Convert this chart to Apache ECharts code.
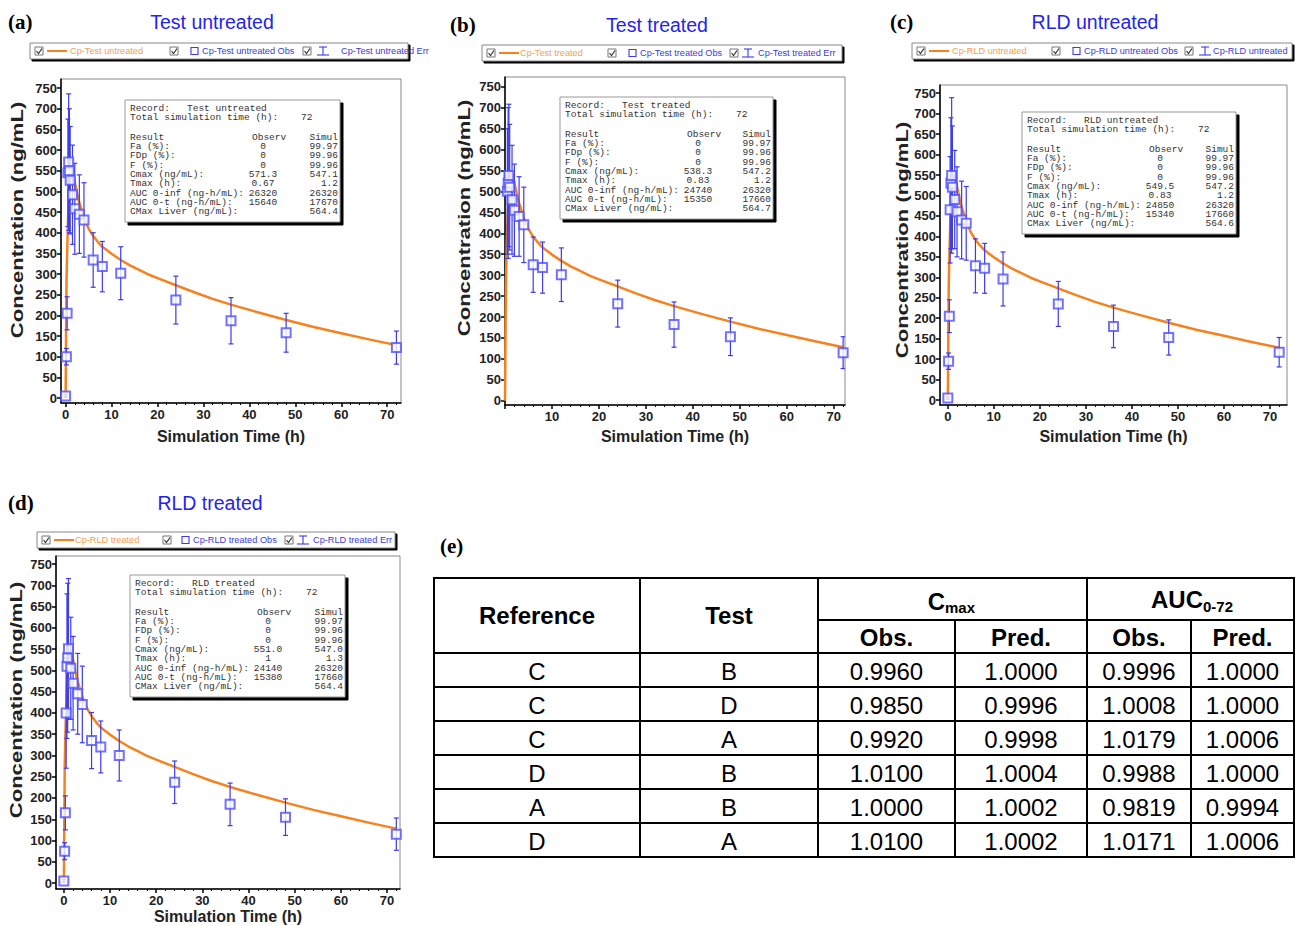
<!DOCTYPE html>
<html><head><meta charset="utf-8">
<script src="https://cdn.jsdelivr.net/npm/echarts@6/dist/echarts.min.js"></script>
<style>html,body{margin:0;padding:0;background:#fff}#c{width:1296px;height:926px}</style>
</head><body><div id="c"></div><script>
// ---------- DATA ----------
const obsTimes = [0, 0.17, 0.33, 0.5, 0.67, 0.83, 1, 1.5, 2, 3, 4, 6, 8, 12, 24, 36, 48, 72];
const obsA = [5, 100, 205, 545, 571, 550, 527, 492, 458, 445, 431, 334, 318, 302, 237, 187, 158, 122];
const errA = [3, 20, 40, 130, 165, 150, 130, 120, 110, 95, 90, 66, 61, 64, 58, 56, 47, 40];
const obsB = [null, null, null, 500, 520, 538, 510, 480, 455, 440, 420, 325, 318, 301, 232, 182, 153, 115];
const errB = [null, null, null, 150, 180, 170, 150, 130, 110, 95, 90, 66, 61, 64, 56, 54, 45, 38];
const obsC = [5, 95, 205, 465, 530, 549, 520, 490, 460, 440, 432, 328, 322, 296, 235, 180, 153, 117];
const errC = [3, 20, 40, 130, 160, 190, 150, 120, 110, 95, 90, 66, 61, 66, 55, 52, 43, 36];
const obsD = [5, 75, 165, 400, 510, 530, 551, 505, 470, 445, 420, 335, 320, 300, 237, 185, 155, 115];
const errD = [3, 20, 40, 130, 170, 175, 165, 120, 110, 95, 90, 66, 61, 60, 50, 50, 43, 38];

const simTimes = [0, 0.05, 0.1, 0.2, 0.3, 0.5, 0.75, 1, 1.2, 1.5, 2, 2.5, 3, 4, 5, 6, 7, 8, 10, 12, 14, 16, 18, 20, 24, 28, 32, 36, 42, 48, 54, 60, 66, 72];
const simA = [0, 60, 150, 280, 335, 420, 500, 535, 547, 543, 522, 495, 472, 437, 410, 392, 378, 366, 349, 334, 321, 310, 299, 290, 273, 256, 240, 226, 207, 189, 172, 157, 142, 128];
const simB = [0, 60, 150, 280, 335, 420, 500, 535, 547, 543, 522, 495, 472, 437, 410, 392, 378, 366, 349, 334, 321, 310, 299, 290, 273, 256, 240, 226, 207, 189, 172, 157, 142, 128];
const simC = [0, 60, 150, 280, 335, 420, 500, 535, 547, 543, 522, 495, 472, 437, 410, 392, 378, 366, 349, 334, 321, 310, 299, 290, 273, 256, 240, 226, 207, 189, 172, 157, 142, 128];
const simD = [0, 60, 150, 280, 335, 415, 495, 530, 543, 547, 525, 497, 474, 438, 411, 393, 378, 366, 349, 334, 321, 310, 299, 290, 273, 256, 240, 226, 207, 189, 172, 157, 142, 128];

const xTicks = [0, 10, 20, 30, 40, 50, 60, 70];
const xTicksB = [10, 20, 30, 40, 50, 60, 70];
const xMinorTicks = [2, 4, 6, 8, 12, 14, 16, 18, 22, 24, 26, 28, 32, 34, 36, 38, 42, 44, 46, 48, 52, 54, 56, 58, 62, 64, 66, 68, 72];
const yTicks = [0, 50, 100, 150, 200, 250, 300, 350, 400, 450, 500, 550, 600, 650, 700, 750];

const panelTitles = ['Test untreated', 'Test treated', 'RLD untreated', 'RLD treated'];
const panelLetters = ['(a)', '(b)', '(c)', '(d)'];
const recordNames = ['Test untreated', 'Test treated', 'RLD untreated', 'RLD treated'];
const legendNames = ['Cp-Test untreated', 'Cp-Test treated', 'Cp-RLD untreated', 'Cp-RLD treated'];
const resultLabels = ['Fa (%):', 'FDp (%):', 'F (%):', 'Cmax (ng/mL):', 'Tmax (h):', 'AUC 0-inf (ng-h/mL):', 'AUC 0-t (ng-h/mL):', 'CMax Liver (ng/mL):'];
const observA = ['0', '0', '0', '571.3', '0.67', '26320', '15640', ''];
const simulA = ['99.97', '99.96', '99.96', '547.1', '1.2', '26320', '17670', '564.4'];
const observB = ['0', '0', '0', '538.3', '0.83', '24740', '15350', ''];
const simulB = ['99.97', '99.96', '99.96', '547.2', '1.2', '26320', '17660', '564.7'];
const observC = ['0', '0', '0', '549.5', '0.83', '24850', '15340', ''];
const simulC = ['99.97', '99.96', '99.96', '547.2', '1.2', '26320', '17660', '564.6'];
const observD = ['0', '0', '0', '551.0', '1', '24140', '15380', ''];
const simulD = ['99.97', '99.96', '99.96', '547.0', '1.3', '26320', '17660', '564.4'];

const tblRef = ['C', 'C', 'C', 'D', 'A', 'D'];
const tblTest = ['B', 'D', 'A', 'B', 'B', 'A'];
const tblCmaxObs = ['0.9960', '0.9850', '0.9920', '1.0100', '1.0000', '1.0100'];
const tblCmaxPred = ['1.0000', '0.9996', '0.9998', '1.0004', '1.0002', '1.0002'];
const tblAucObs = ['0.9996', '1.0008', '1.0179', '0.9988', '0.9819', '1.0171'];
const tblAucPred = ['1.0000', '1.0000', '1.0006', '1.0000', '0.9994', '1.0006'];

// ---------- LAYOUT ----------
const SANS = "'Liberation Sans', Arial, sans-serif";
const MONO = "'Liberation Mono', 'DejaVu Sans Mono', monospace";
const SERIF = "'Liberation Serif', 'Times New Roman', serif";
const ORANGE = '#f5821f', BLUE = '#3b3bef', SQ = '#4f4fff';

const panels = [
  {grid:{left:61, top:79, width:340, height:324}, x:[-1, 73], y:[-12, 772], xl:xTicks, obs:obsA, err:errA, sim:simA,
   xg:25, yname:[18, 220], title:[212, 22], letter:[8, 22], leg:{x:30, y:43, w:378, o:[5, 17, 40, 140, 161, 172, 273, 287, 311], t3w:200},
   info:[125, 100, 215, 122], ob:observA, si:simulA},
  {grid:{left:505, top:77, width:340, height:328}, x:[0, 72.4], y:[-10, 773], xl:xTicksB, obs:obsB, err:errB, sim:simB,
   xg:23, yname:[465, 218], title:[657, 25], letter:[450, 25], leg:{x:482, y:45, w:360, o:[5, 17, 38, 126, 147, 158, 248, 260, 276], t3w:200},
   info:[560, 97, 213, 122], ob:observB, si:simulB},
  {grid:{left:940, top:85, width:347, height:320}, x:[-1.7, 73.7], y:[-12, 770], xl:xTicks, obs:obsC, err:errC, sim:simC,
   xg:23, yname:[903, 240], title:[1095, 22], letter:[890, 22], leg:{x:912, y:43, w:380, o:[5, 17, 40, 140, 161, 172, 273, 287, 301], t3w:80},
   info:[1022, 112, 214, 122], ob:observC, si:simulC},
  {grid:{left:56, top:556, width:344, height:333}, x:[-1.7, 72.8], y:[-14, 769], xl:xTicks, obs:obsD, err:errD, sim:simD,
   xg:19, yname:[17, 700], title:[210, 503], letter:[8, 503], leg:{x:37, y:532, w:358, o:[5, 17, 38, 126, 145, 156, 248, 260, 276], t3w:200},
   info:[130, 575, 215, 122], ob:observD, si:simulD}
];

const grids = [], xAxes = [], yAxes = [], series = [], G = [];

function txt(x, y, text, font, fill, align, valign, extra) {
  const el = {type:'text', x:x, y:y, silent:true, z:100,
    style:{text:text, font:font, fill:fill || '#000', align:align || 'left', verticalAlign:valign || 'middle',
      textAlign:align || 'left', textVerticalAlign:valign || 'middle'}};
  if (extra) Object.assign(el, extra);
  return el;
}
function rect(x, y, w, h, stroke, fill, lw) {
  return {type:'rect', silent:true, z:90, shape:{x:x, y:y, width:w, height:h}, style:{stroke:stroke, fill:fill, lineWidth:lw || 1}};
}
function seg(x1, y1, x2, y2, stroke, lw, z) {
  return {type:'line', silent:true, z:z || 95, shape:{x1:x1, y1:y1, x2:x2, y2:y2}, style:{stroke:stroke, lineWidth:lw || 1}};
}
function checkbox(x, y) {
  G.push(rect(x, y, 8, 8, '#777', '#fff', 1));
  G.push({type:'polyline', silent:true, z:96, shape:{points:[[x + 1.5, y + 4], [x + 3.5, y + 6.5], [x + 7, y + 1.5]]}, style:{stroke:'#333', lineWidth:1.2, fill:null}});
}

panels.forEach(function (p, i) {
  grids.push(Object.assign({show:true, borderColor:'#8a8a8a', borderWidth:1, backgroundColor:'#fff'}, p.grid));
  xAxes[i] = {type:'value', gridIndex:i, min:p.x[0], max:p.x[1], name:'Simulation Time (h)', nameLocation:'middle', nameGap:p.xg,
    nameTextStyle:{fontFamily:SANS, fontWeight:'bold', fontSize:16, color:'#222'},
    axisLine:{onZero:false, lineStyle:{color:'#000', width:1.5}}, splitLine:{show:false},
    axisTick:{show:true, inside:false, length:4, lineStyle:{color:'#000', width:1.5}, customValues:xTicks},
    axisLabel:{customValues:p.xl, fontFamily:SANS, fontWeight:'bold', fontSize:13, color:'#222', margin:5}};
  xAxes[i + 4] = {type:'value', gridIndex:i, min:p.x[0], max:p.x[1], position:'bottom',
    axisLine:{show:false, onZero:false}, splitLine:{show:false}, axisLabel:{show:false},
    axisTick:{show:true, inside:false, length:2, lineStyle:{color:'#000', width:1}, customValues:xMinorTicks}};
  yAxes.push({type:'value', gridIndex:i, min:p.y[0], max:p.y[1],
    axisLine:{onZero:false, lineStyle:{color:'#000', width:1.5}}, splitLine:{show:false},
    axisTick:{show:true, inside:false, length:4, lineStyle:{color:'#000', width:1.5}, customValues:yTicks},
    axisLabel:{customValues:yTicks, fontFamily:SANS, fontWeight:'bold', fontSize:13, color:'#222', margin:4}});
  series.push({type:'line', xAxisIndex:i, yAxisIndex:i, data:simTimes.map(function (t, k) { return [t, p.sim[k]]; }),
    smooth:false, showSymbol:false, lineStyle:{color:ORANGE, width:2.5, join:'round'}, z:2, silent:true});
  const od = [], ed = [];
  obsTimes.forEach(function (t, k) {
    if (p.obs[k] == null) return;
    od.push([t, p.obs[k]]); ed.push([t, p.obs[k], p.err[k]]);
  });
  series.push({type:'custom', xAxisIndex:i, yAxisIndex:i, z:3, silent:true, clip:true, data:ed,
    renderItem:function (params, api) {
      const t = api.value(0), v = api.value(1), e = api.value(2);
      const a = api.coord([t, v + e]), b = api.coord([t, v - e]);
      const c = 2.5;
      return {type:'group', children:[
        {type:'line', shape:{x1:a[0], y1:a[1], x2:b[0], y2:b[1]}, style:{stroke:BLUE, lineWidth:1.2}},
        {type:'line', shape:{x1:a[0] - c, y1:a[1], x2:a[0] + c, y2:a[1]}, style:{stroke:BLUE, lineWidth:1.2}},
        {type:'line', shape:{x1:b[0] - c, y1:b[1], x2:b[0] + c, y2:b[1]}, style:{stroke:BLUE, lineWidth:1.2}}
      ]};
    }});
  series.push({type:'scatter', xAxisIndex:i, yAxisIndex:i, z:4, silent:true, symbol:'emptyRect', symbolSize:9,
    itemStyle:{color:SQ, borderColor:SQ, borderWidth:1.3}, data:od});

  // y axis title (stretched like the reference)
  G.push(txt(p.yname[0], p.yname[1], 'Concentration (ng/mL)', 'bold 16px ' + SANS, '#222', 'center', 'middle',
    {rotation:Math.PI / 2, scaleX:1.38}));
  // panel letter and title
  G.push(txt(p.letter[0], p.letter[1], panelLetters[i], 'bold 21px ' + SERIF, '#000', 'left', 'middle'));
  G.push(txt(p.title[0], p.title[1], panelTitles[i], '19.5px ' + SANS, '#2323f0', 'center', 'middle'));

  // legend bar
  const L = p.leg, o = L.o, ly = L.y, lh = 16, my = ly + lh / 2, LF = '9.2px ' + SANS;
  G.push(rect(L.x + 2, ly + 2, L.w, lh, '#000', '#000', 1));
  G.push(rect(L.x, ly, L.w, lh, '#888', '#fff', 1));
  checkbox(L.x + o[0], my - 4);
  G.push(seg(L.x + o[1], my, L.x + o[1] + 20, my, ORANGE, 2));
  G.push(txt(L.x + o[2], my, legendNames[i], LF, '#f5a050', 'left', 'middle'));
  checkbox(L.x + o[3], my - 4);
  G.push(rect(L.x + o[4], my - 3.5, 7, 7, '#3a3af0', '#fff', 1.1));
  G.push(txt(L.x + o[5], my, legendNames[i] + ' Obs', LF, '#3a3ae0', 'left', 'middle'));
  checkbox(L.x + o[6], my - 4);
  const ex = L.x + o[7] + 6;
  G.push(seg(ex, my - 4, ex, my + 4, '#3a3af0', 1.1));
  G.push(seg(ex - 4, my - 4, ex + 4, my - 4, '#3a3af0', 1.1));
  G.push(seg(ex - 6, my + 4, ex + 6, my + 4, '#3a3af0', 1.1));
  const t3 = txt(L.x + o[8], my, legendNames[i] + ' Err', LF, '#3a3ae0', 'left', 'middle');
  t3.style.width = L.t3w; t3.style.overflow = 'truncate'; t3.style.ellipsis = '';
  G.push(t3);

  // info box
  const bx = p.info[0], by = p.info[1], bw = p.info[2], bh = p.info[3];
  G.push(rect(bx + 3, by + 3, bw, bh, '#000', '#000', 1));
  G.push(rect(bx, by, bw, bh, '#999', '#fff', 1));
  const F = '9.5px ' + MONO, TC = '#333';
  G.push(txt(bx + 5, by + 8, 'Record:   ' + recordNames[i], F, TC));
  G.push(txt(bx + 5, by + 17, 'Total simulation time (h):', F, TC));
  G.push(txt(bx + 176, by + 17, '72', F, TC));
  G.push(txt(bx + 5, by + 37, 'Result', F, TC));
  G.push(txt(bx + 127, by + 37, 'Observ', F, TC));
  G.push(txt(bx + bw - 2, by + 37, 'Simul', F, TC, 'right'));
  resultLabels.forEach(function (lab, k) {
    const yy = by + 46.5 + k * 9.3;
    G.push(txt(bx + 5, yy, lab, F, TC));
    if (p.ob[k]) G.push(txt(bx + 138, yy, p.ob[k], F, TC, 'center'));
    G.push(txt(bx + bw - 2, yy, p.si[k], F, TC, 'right'));
  });
});

// ---------- TABLE (e) ----------
G.push(txt(440, 546, '(e)', 'bold 21px ' + SERIF, '#000', 'left', 'middle'));
const TX = [434, 640, 818, 955, 1087, 1191, 1294];
const TY = [578, 620, 653, 687, 721, 755, 789, 823, 857];
const TB = '#000', TW = 2;
G.push(rect(TX[0], TY[0], TX[6] - TX[0], TY[8] - TY[0], TB, 'none', TW));
G.push(seg(TX[1], TY[0], TX[1], TY[8], TB, TW));
G.push(seg(TX[2], TY[0], TX[2], TY[8], TB, TW));
G.push(seg(TX[4], TY[0], TX[4], TY[8], TB, TW));
G.push(seg(TX[3], TY[1], TX[3], TY[8], TB, TW));
G.push(seg(TX[5], TY[1], TX[5], TY[8], TB, TW));
G.push(seg(TX[2], TY[1], TX[6], TY[1], TB, TW));
for (let r = 2; r < 8; r++) G.push(seg(TX[0], TY[r], TX[6], TY[r], TB, TW));
const HB = 'bold 24px ' + SANS, DF = '24px ' + SANS;
G.push(txt((TX[0] + TX[1]) / 2, 615, 'Reference', HB, '#000', 'center'));
G.push(txt((TX[1] + TX[2]) / 2, 615, 'Test', HB, '#000', 'center'));
G.push(txt(945, 601, 'C', HB, '#000', 'right'));
G.push(txt(945, 607, 'max', 'bold 15px ' + SANS, '#000', 'left'));
G.push(txt(1203, 599, 'AUC', HB, '#000', 'right'));
G.push(txt(1203, 606, '0-72', 'bold 15px ' + SANS, '#000', 'left'));
G.push(txt((TX[2] + TX[3]) / 2, 637, 'Obs.', HB, '#000', 'center'));
G.push(txt((TX[3] + TX[4]) / 2, 637, 'Pred.', HB, '#000', 'center'));
G.push(txt((TX[4] + TX[5]) / 2, 637, 'Obs.', HB, '#000', 'center'));
G.push(txt((TX[5] + TX[6]) / 2, 637, 'Pred.', HB, '#000', 'center'));
const cols = [tblRef, tblTest, tblCmaxObs, tblCmaxPred, tblAucObs, tblAucPred];
cols.forEach(function (col, c) {
  col.forEach(function (v, r) {
    G.push(txt((TX[c] + TX[c + 1]) / 2, (TY[r + 2] + TY[r + 3]) / 2 + 1, v, DF, '#000', 'center'));
  });
});

const chart = echarts.init(document.getElementById('c'), null, {renderer:'svg', width:1296, height:926});
chart.setOption({animation:false, backgroundColor:'#fff', grid:grids, xAxis:xAxes, yAxis:yAxes, series:series, graphic:{elements:G}});
</script></body></html>
